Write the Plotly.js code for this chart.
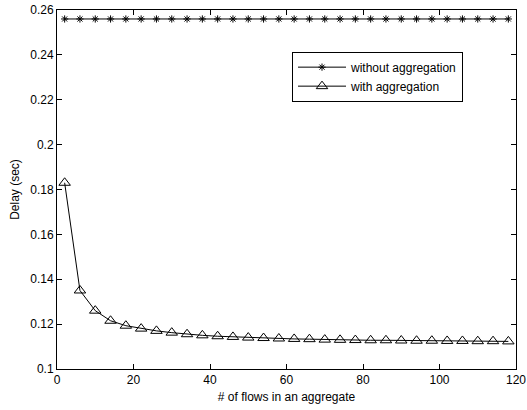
<!DOCTYPE html>
<html>
<head>
<meta charset="utf-8">
<script src="https://cdn.plot.ly/plotly-3.0.1.min.js"></script>
<style>html,body{margin:0;padding:0;background:#fff;}#chart{width:527px;height:410px;}</style>
</head>
<body>
<div id="chart"></div>
<script>
const flows = [2,6,10,14,18,22,26,30,34,38,42,46,50,54,58,62,66,70,74,78,82,86,90,94,98,102,106,110,114,118];
const delayWithout = [0.256,0.256,0.256,0.256,0.256,0.256,0.256,0.256,0.256,0.256,0.256,0.256,0.256,0.256,0.256,0.256,0.256,0.256,0.256,0.256,0.256,0.256,0.256,0.256,0.256,0.256,0.256,0.256,0.256,0.256];
const delayWith = [0.183,0.135,0.126,0.1215,0.1193,0.118,0.117,0.1162,0.1155,0.115,0.1146,0.1143,0.114,0.1138,0.1136,0.1134,0.1133,0.1131,0.113,0.1129,0.1128,0.1128,0.1127,0.1126,0.1126,0.1125,0.1125,0.1124,0.1124,0.1123];
const seriesNames = ["without aggregation","with aggregation"];

const font = {family: "Liberation Sans, Arial, sans-serif", size: 12, color: "#000"};

const traces = [
  {x: flows, y: delayWithout, name: seriesNames[0], mode: "lines+markers", type: "scatter",
   line: {color: "#000", width: 1}, marker: {symbol: "asterisk-open", size: 6, color: "#000", line: {color: "#000", width: 1}}},
  {x: flows, y: delayWith, name: seriesNames[1], mode: "lines+markers", type: "scatter",
   line: {color: "#000", width: 1}, marker: {symbol: "triangle-up-open", size: 10, color: "#000", line: {color: "#000", width: 1}}}
];

const layout = {
  width: 527, height: 410,
  margin: {l: 57, r: 11, t: 10, b: 41},
  paper_bgcolor: "#fff", plot_bgcolor: "#fff",
  font: font,
  showlegend: true,
  legend: {x: 0.512, y: 0.884, xanchor: "left", yanchor: "top", bordercolor: "#000", borderwidth: 1,
           bgcolor: "#fff", font: font, tracegroupgap: 0, itemwidth: 48},
  xaxis: {range: [0, 120], dtick: 20, tick0: 0, ticks: "inside", ticklen: 5, tickcolor: "#000",
          showline: true, linecolor: "#000", linewidth: 1, mirror: "ticks", showgrid: false, zeroline: false,
          title: {text: "# of flows in an aggregate", font: font, standoff: 6}, tickfont: font},
  yaxis: {range: [0.1, 0.26], dtick: 0.02, tick0: 0.1, ticks: "inside", ticklen: 5, tickcolor: "#000",
          showline: true, linecolor: "#000", linewidth: 1, mirror: "ticks", showgrid: false, zeroline: false,
          title: {text: "Delay (sec)", font: font, standoff: 8}, tickfont: font}
};

Plotly.newPlot("chart", traces, layout, {displayModeBar: false, staticPlot: true});
</script>
</body>
</html>
